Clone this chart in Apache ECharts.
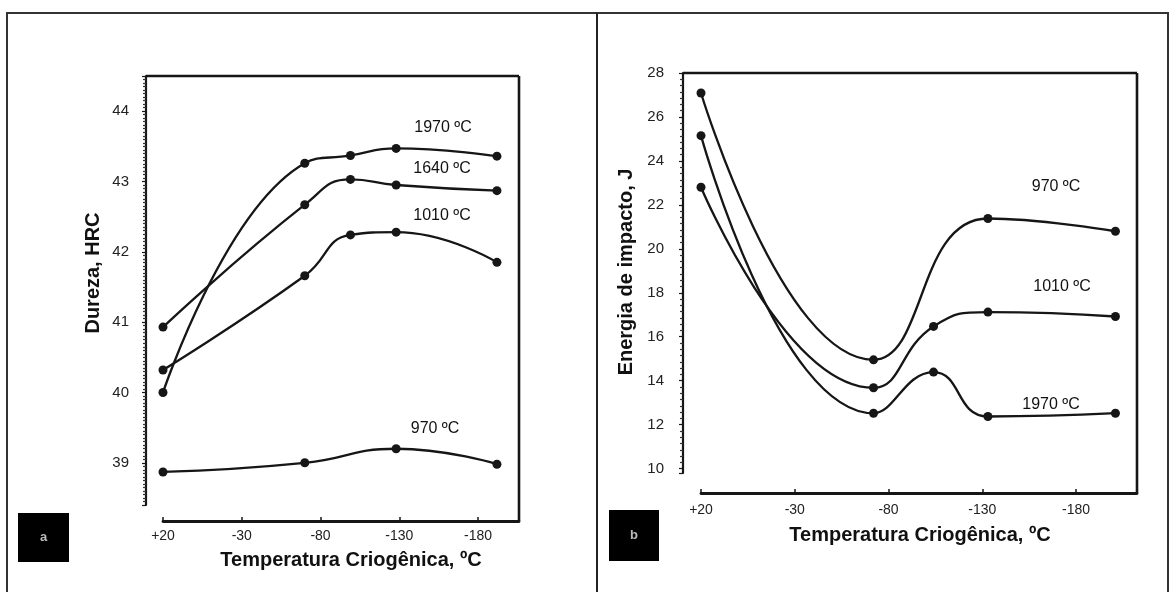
<!DOCTYPE html>
<html>
<head>
<meta charset="utf-8">
<script src="https://cdn.jsdelivr.net/npm/echarts@6/dist/echarts.min.js"></script>
<style>
  html, body { margin: 0; padding: 0; background: #fff; }
  #chart { width: 1175px; height: 592px; }
</style>
</head>
<body>
<div id="chart"></div>
<script>
// ---- data: panel (a) hardness, panel (b) impact energy ----
const tempsA = [20, -70, -99, -128, -192];
const hardness1970 = [40.0, 43.26, 43.37, 43.47, 43.36];
const hardness1640 = [40.93, 42.67, 43.03, 42.95, 42.87];
const hardness1010 = [40.32, 41.66, 42.24, 42.28, 41.85];
const hardness970  = [38.87, 39.0, null, 39.2, 38.98];

const tempsB = [20, -72, -104, -133, -201];
const impact970  = [27.09, 14.95, null, 21.38, 20.8];
const impact1010 = [22.8, 13.68, 16.47, 17.12, 16.92];
const impact1970 = [25.15, 12.52, 14.39, 12.37, 12.52];

const tempTicks = [20, -30, -80, -130, -180];
const seriesNamesA = ['1970 ºC', '1640 ºC', '1010 ºC', '970 ºC'];
const seriesNamesB = ['970 ºC', '1010 ºC', '1970 ºC'];
const xTitle = 'Temperatura Criogênica, ºC';
const yTitleA = 'Dureza, HRC';
const yTitleB = 'Energia de impacto, J';

// ---- layout ----
const FONT = '"Liberation Sans", Arial, sans-serif';
const INK = '#161616';
const gridA = { left: 163, top: 76, width: 356, height: 429 };
const gridB = { left: 701, top: 73, width: 436, height: 400 };
const yOffA = 17, xOffA = 16, yOffB = 18, xOffB = 20;

// annotation placement [text index, centre x, centre y]
const curveLabelsA = [[0, 443, 128], [1, 442, 169], [2, 442, 216], [3, 435, 429]];
const curveLabelsB = [[0, 1056, 187], [1, 1062, 287], [2, 1051, 405]];

function pairs(xs, ys) {
  const out = [];
  xs.forEach((x, i) => { if (ys[i] !== null) out.push([x, ys[i]]); });
  return out;
}
const fmtTemp = v => (v > 0 ? '+' + v : String(v));

function lineSeries(name, gi, xs, ys) {
  return {
    name: name, type: 'line', xAxisIndex: gi, yAxisIndex: gi,
    data: pairs(xs, ys), smooth: 0.5,
    symbol: 'circle', symbolSize: 9,
    lineStyle: { color: INK, width: 2.3 },
    itemStyle: { color: INK },
    silent: true, animation: false
  };
}

function xAxisFor(gi, min, offset, margin) {
  return {
    gridIndex: gi, type: 'value', inverse: true, min: min, max: 20, offset: offset,
    axisLine: { show: true, onZero: false, lineStyle: { color: INK, width: 2.8 } },
    axisTick: { show: true, inside: true, length: 4, customValues: tempTicks, lineStyle: { color: INK, width: 1.5 } },
    axisLabel: { customValues: tempTicks, formatter: fmtTemp, fontFamily: FONT, fontSize: 14, color: '#222', margin: margin },
    splitLine: { show: false }
  };
}

function yAxisFor(gi, min, max, split, offset, margin, minorSplit, showMax) {
  return {
    gridIndex: gi, type: 'value', min: min, max: max, splitNumber: split, offset: offset,
    axisLine: { show: true, onZero: false, lineStyle: { color: INK, width: 2.2 } },
    axisTick: { show: true, inside: false, length: 4, lineStyle: { color: INK, width: 1.2 } },
    minorTick: { show: true, splitNumber: minorSplit, length: 3, lineStyle: { color: '#333', width: 1.2 } },
    axisLabel: { fontFamily: FONT, fontSize: 15, color: '#222', margin: margin, showMinLabel: false, showMaxLabel: showMax },
    splitLine: { show: false }, minorSplitLine: { show: false }
  };
}

function frame(g, yOff, xOff) {
  const l = g.left - yOff, r = g.left + g.width, t = g.top, b = g.top + g.height + xOff;
  return [
    { type: 'line', shape: { x1: l, y1: t, x2: r, y2: t }, style: { stroke: INK, lineWidth: 2.6 } },
    { type: 'line', shape: { x1: r, y1: t, x2: r, y2: b }, style: { stroke: INK, lineWidth: 2.6 } }
  ];
}

function text(str, x, y, size, weight, rot) {
  return {
    type: 'text', x: x, y: y, rotation: rot || 0,
    style: { text: str, fontFamily: FONT, fontSize: size, fontWeight: weight || 'normal',
             fill: '#111', align: 'center', verticalAlign: 'middle' }
  };
}

function badge(letter, x, y, w, h) {
  return [
    { type: 'rect', shape: { x: x, y: y, width: w, height: h }, style: { fill: '#000' } },
    { type: 'text', x: x + w / 2, y: y + h / 2,
      style: { text: letter, fontFamily: FONT, fontSize: 13, fontWeight: 'bold', fill: '#bbb', align: 'center', verticalAlign: 'middle' } }
  ];
}

const graphics = [
  // outer frame and divider
  { type: 'rect', shape: { x: 7, y: 13, width: 1161, height: 600 }, style: { fill: null, stroke: '#333', lineWidth: 2 } },
  { type: 'line', shape: { x1: 597, y1: 13, x2: 597, y2: 592 }, style: { stroke: '#222', lineWidth: 2 } },
  ...frame(gridA, yOffA, xOffA),
  ...frame(gridB, yOffB, xOffB),
  text(xTitle, 351, 560, 20, 'bold'),
  text(xTitle, 920, 535, 20, 'bold'),
  text(yTitleA, 93, 273, 20, 'bold', Math.PI / 2),
  text(yTitleB, 626, 272, 20, 'bold', Math.PI / 2),
  ...curveLabelsA.map(c => text(seriesNamesA[c[0]], c[1], c[2], 16)),
  ...curveLabelsB.map(c => text(seriesNamesB[c[0]], c[1], c[2], 16)),
  ...badge('a', 18, 513, 51, 49),
  ...badge('b', 609, 510, 50, 51)
];

const chart = echarts.init(document.getElementById('chart'), null, { renderer: 'canvas' });
chart.setOption({
  backgroundColor: '#fff',
  animation: false,
  grid: [
    Object.assign({ containLabel: false, outerBoundsMode: 'none' }, gridA),
    Object.assign({ containLabel: false, outerBoundsMode: 'none' }, gridB)
  ],
  xAxis: [
    xAxisFor(0, -206, xOffA, 8),
    xAxisFor(1, -212.5, xOffB, 10)
  ],
  yAxis: [
    yAxisFor(0, 38.4, 44.5, 6, yOffA, 17, 20, false),
    yAxisFor(1, 9.8, 28, 9, yOffB, 19, 7, true)
  ],
  series: [
    lineSeries(seriesNamesA[0], 0, tempsA, hardness1970),
    lineSeries(seriesNamesA[1], 0, tempsA, hardness1640),
    lineSeries(seriesNamesA[2], 0, tempsA, hardness1010),
    lineSeries(seriesNamesA[3], 0, tempsA, hardness970),
    lineSeries(seriesNamesB[0], 1, tempsB, impact970),
    lineSeries(seriesNamesB[1], 1, tempsB, impact1010),
    lineSeries(seriesNamesB[2], 1, tempsB, impact1970)
  ],
  graphic: graphics
});
</script>
</body>
</html>
